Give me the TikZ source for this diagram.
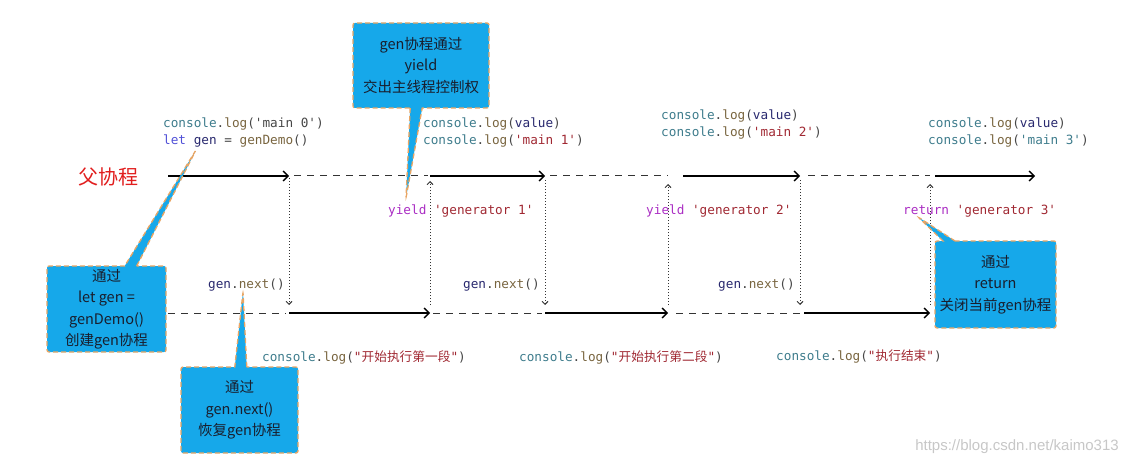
\documentclass[tikz,border=0pt]{standalone}
\usepackage{fontspec}
\newfontfamily\cjk{Noto Sans CJK SC}
\newfontfamily\codefont[Ligatures=TeXOff]{DejaVu Sans Mono}
\newfontfamily\markfont{Liberation Sans}
\usetikzlibrary{arrows.meta,shapes.callouts}

\definecolor{cteal}{RGB}{62,124,140}
\definecolor{clog}{RGB}{120,100,62}
\definecolor{cpunc}{RGB}{70,70,70}
\definecolor{cstr}{RGB}{160,40,50}
\definecolor{cval}{RGB}{40,40,110}
\definecolor{ckey}{RGB}{170,45,195}
\definecolor{clet}{RGB}{80,80,215}
\definecolor{cbox}{RGB}{22,168,234}
\definecolor{cborder}{RGB}{232,165,100}
\definecolor{ctext}{RGB}{25,30,45}
\definecolor{cred}{RGB}{225,30,30}

% code snippets
\newcommand{\cl}[1]{\textcolor{cteal}{console}\textcolor{cpunc}{.}\textcolor{clog}{log}\textcolor{cpunc}{(}#1\textcolor{cpunc}{)}}
\newcommand{\gnext}{\textcolor{cval}{gen}\textcolor{cpunc}{.}\textcolor{clog}{next}\textcolor{cpunc}{()}}
\newcommand{\str}[1]{\textcolor{cstr}{#1}}

\begin{document}
\begin{tikzpicture}[x=1pt, y=-1pt,
  code/.style={font=\codefont\fontsize{12.7}{17}\selectfont, inner sep=0pt, align=left, anchor=west},
  runline/.style={line width=1.3pt, -{Straight Barb[length=5pt,width=10pt]}},
  waitline/.style={line width=1pt, draw=black!80, dash pattern=on 7pt off 6pt},
  jump/.style={line width=1pt, draw=black!80, dash pattern=on 1.2pt off 1.8pt, -{Straight Barb[length=3pt,width=6pt,line width=0.9pt]}},
  tipbox/.style={rectangle callout, fill=cbox, draw=cborder, line width=1.3pt,
    dash pattern=on 5pt off 3pt, rounded corners=2pt, callout pointer width=12pt,
    font=\cjk\fontsize{14.5}{21.5}\selectfont, text=ctext, align=center, inner sep=0pt}]
  \useasboundingbox (0,0) rectangle (1134,465);

  % 父协程 line
  \coordinate (p0) at (168,176);
  \coordinate (p1) at (289,176);
  \coordinate (p2) at (430,176);
  \coordinate (p3) at (545,176);
  \coordinate (p4) at (668,176);
  \coordinate (p4s) at (683,176);
  \coordinate (p5) at (800,176);
  \coordinate (p6) at (930,176);
  \coordinate (p6s) at (935,176);
  \coordinate (p7) at (1035,176);
  % gen line
  \coordinate (c0) at (168,313);
  \coordinate (c1) at (289,313);
  \coordinate (c2) at (430,313);
  \coordinate (c3) at (545,313);
  \coordinate (c4) at (668,313);
  \coordinate (c5) at (800,313);
  \coordinate (c6) at (930,313);

  \draw[runline] (p0) -- (p1);
  \draw[waitline, shorten <=5pt, shorten >=2pt] (p1) -- (p2);
  \draw[runline] (p2) -- (p3);
  \draw[waitline, shorten <=5pt] (p3) -- (p4);
  \draw[runline] (p4s) -- (p5);
  \draw[waitline, shorten <=8pt] (p5) -- (p6);
  \draw[runline] (p6s) -- (p7);

  \draw[waitline, shorten >=3pt] (c0) -- (c1);
  \draw[runline] (c1) -- (c2);
  \draw[waitline, shorten <=3pt, shorten >=3pt] (c2) -- (c3);
  \draw[runline] (c3) -- (c4);
  \draw[waitline, shorten <=8pt] (c4) -- (c5);
  \draw[runline, shorten <=4pt] (c5) -- (c6);

  % 切换
  \draw[jump, shorten <=2pt, shorten >=8pt] (p1) -- (c1);
  \draw[jump, shorten <=8pt, shorten >=5pt] (c2) -- (p2);
  \draw[jump, shorten <=4pt, shorten >=8pt] (p3) -- (c3);
  \draw[jump, shorten <=8pt, shorten >=8pt] (c4) -- (p4);
  \draw[jump, shorten <=4pt, shorten >=8pt] (p5) -- (c5);
  \draw[jump, shorten <=8pt, shorten >=8pt] (c6) -- (p6);

  \node[font=\cjk\fontsize{20}{20}\selectfont, text=cred] (parent) at (108,177) {父协程};

  % 代码
  \node[code] (main0) at (163,132.5) {\cl{\textcolor{cpunc}{'main 0'}}\\
    \textcolor{clet}{let} \textcolor{cval}{gen} \textcolor{cpunc}{=} \textcolor{clog}{genDemo}\textcolor{cpunc}{()}};
  \node[code] (main1) at (423,132.5) {\cl{\textcolor{cval}{value}}\\\cl{\str{'main 1'}}};
  \node[code] (main2) at (661,124.5) {\cl{\textcolor{cval}{value}}\\\cl{\str{'main 2'}}};
  \node[code] (main3) at (928,132.5) {\cl{\textcolor{cval}{value}}\\\cl{\textcolor{cteal}{'main 3'}}};

  \node[code] (yield1) at (388,211) {\textcolor{ckey}{yield} \str{'generator 1'}};
  \node[code] (yield2) at (646,211) {\textcolor{ckey}{yield} \str{'generator 2'}};
  \node[code] (ret3) at (903,211) {\textcolor{ckey}{return} \str{'generator 3'}};

  \node[code] (next1) at (208,285) {\gnext};
  \node[code] (next2) at (463,285) {\gnext};
  \node[code] (next3) at (718,285) {\gnext};

  \node[code] (log1) at (262,357) {\cl{\str{"{\cjk 开始执行第一段}"}}};
  \node[code] (log2) at (519,357) {\cl{\str{"{\cjk 开始执行第二段}"}}};
  \node[code] (log3) at (776,357) {\cl{\str{"{\cjk 执行结束}"}}};

  % 说明
  \coordinate (yieldpt) at (406,198);
  \coordinate (letpt) at (196,150);
  \coordinate (nextpt) at (243,292);
  \coordinate (retpt) at (918,217);
  \node[tipbox, minimum width=136pt, minimum height=85pt, callout absolute pointer={(yieldpt)}]
    (yieldtip) at (421,65.5) {gen协程通过\\yield\\交出主线程控制权};
  \node[tipbox, minimum width=119pt, minimum height=86pt, callout absolute pointer={(letpt)}]
    (lettip) at (106.5,309) {通过\\let gen =\\genDemo()\\创建gen协程};
  \node[tipbox, minimum width=117pt, minimum height=86pt, callout absolute pointer={(nextpt)}]
    (nexttip) at (239.5,410) {通过\\gen.next()\\恢复gen协程};
  \node[tipbox, minimum width=121pt, minimum height=87pt, callout absolute pointer={(retpt)}]
    (rettip) at (995.5,284.5) {通过\\return\\关闭当前gen协程};

  \node[font=\markfont\fontsize{15}{15}\selectfont, text=black!22] (mark) at (1017,447) {https://blog.csdn.net/kaimo313};
\end{tikzpicture}
\end{document}
